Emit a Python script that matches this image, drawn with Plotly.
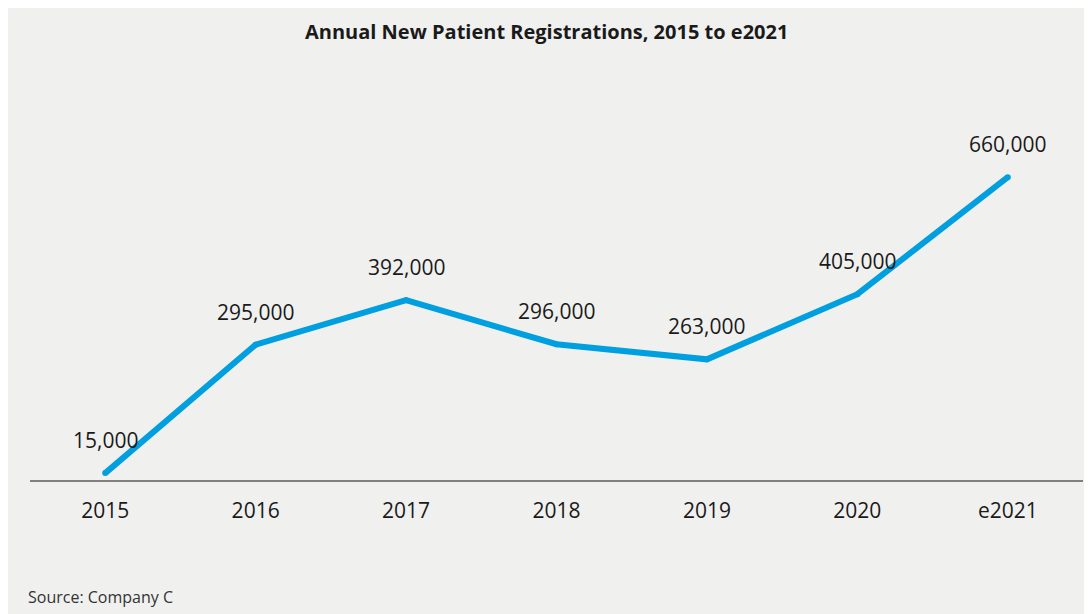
import plotly.graph_objects as go

years = ["2015", "2016", "2017", "2018", "2019", "2020", "e2021"]
registrations = [15000, 295000, 392000, 296000, 263000, 405000, 660000]
labels = ["15,000", "295,000", "392,000", "296,000", "263,000", "405,000", "660,000"]

W, H = 1084, 606
ml, mr, mt, mb = 22, 9, 105, 134
pw, ph = W - ml - mr, H - mt - mb
FONT = "Open Sans"

fig = go.Figure()
fig.add_trace(go.Scatter(
    x=years, y=registrations, mode="lines+markers",
    line=dict(color="#009fdf", width=6),
    marker=dict(color="#009fdf", size=6),
    hoverinfo="skip", showlegend=False,
))
for i, (y, t) in enumerate(zip(registrations, labels)):
    fig.add_annotation(x=i, y=y, xref="x", yref="y", text=t, showarrow=False, yshift=33,
                       font=dict(family=FONT, size=21, color="#1a1a1a"))

def px2paper_x(p):
    return (p - ml) / pw

def px2paper_y(p):
    return (H - mb - p) / ph

fig.add_annotation(xref="paper", yref="paper", x=px2paper_x(538), y=px2paper_y(23),
                   text="<b>Annual New Patient Registrations, 2015 to e2021</b>",
                   showarrow=False, xanchor="center", yanchor="middle",
                   font=dict(family=FONT, size=20, color="#1a1a1a"))
fig.add_annotation(xref="paper", yref="paper", x=px2paper_x(18), y=px2paper_y(589),
                   text="Source: Company C", showarrow=False, xanchor="left", yanchor="middle",
                   font=dict(family=FONT, size=16, color="#333333"))

fig.update_layout(
    width=W, height=H,
    margin=dict(l=ml, r=mr, t=mt, b=mb, pad=0),
    paper_bgcolor="#f0f0ef", plot_bgcolor="rgba(0,0,0,0)",
    xaxis=dict(type="category", range=[-0.5, 6.5], showgrid=False, zeroline=False,
               showline=True, linecolor="#808080", linewidth=2, ticks="",
               tickfont=dict(family=FONT, size=21, color="#1a1a1a"), ticklabelstandoff=11),
    yaxis=dict(range=[0, 800000], visible=False, showgrid=False, zeroline=False),
)
fig.write_html("out.html")
